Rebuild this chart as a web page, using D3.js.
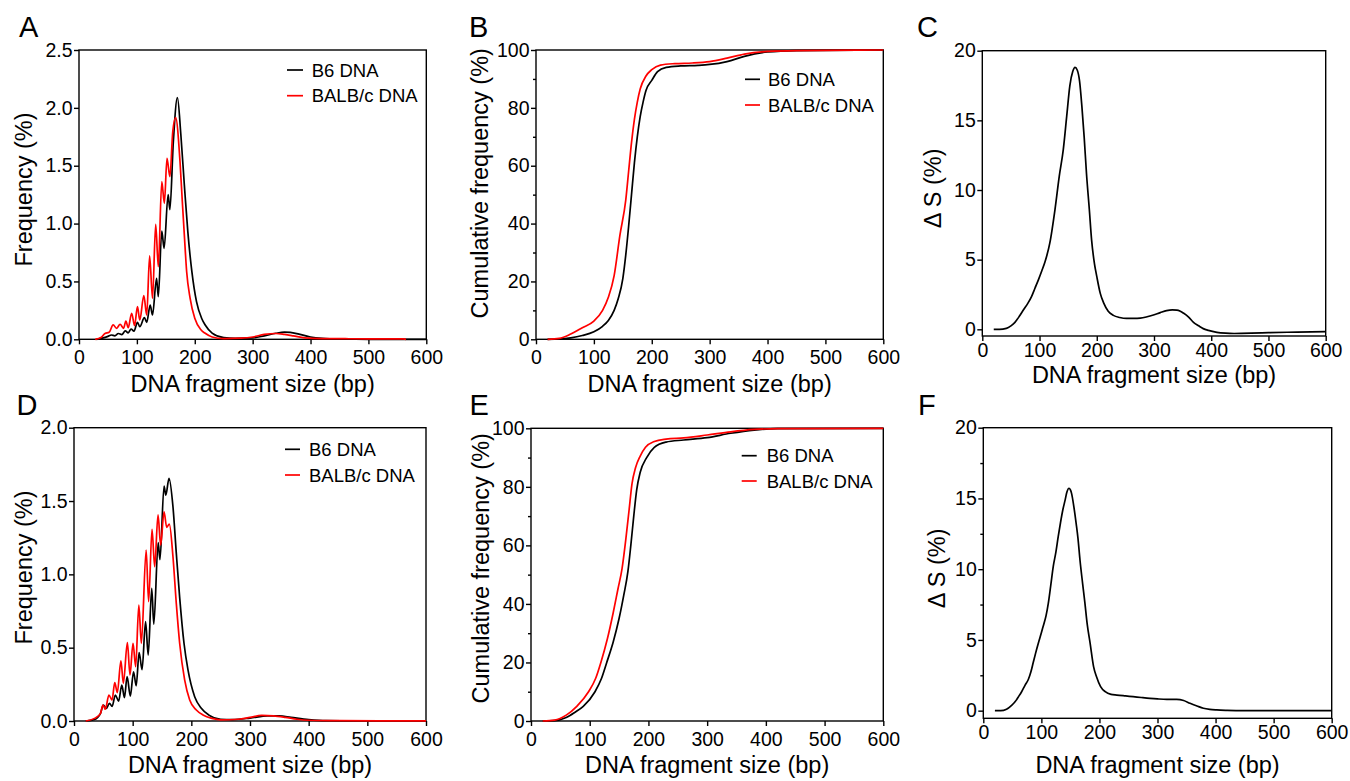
<!DOCTYPE html>
<html>
<head>
<meta charset="utf-8">
<script src="https://cdn.jsdelivr.net/npm/d3@7/dist/d3.min.js"></script>
<style>
body { margin: 0; background: #fff; }
svg text { font-family: "Liberation Sans", Arial, Helvetica, sans-serif; fill: #000; }
</style>
</head>
<body>
<svg id="fig" width="1350" height="781"></svg>
<script>
"use strict";

// ---- data ----
var sizeTicks = [0, 100, 200, 300, 400, 500, 600];
var seriesNames = ["B6 DNA", "BALB/c DNA"];

// A: frequency, top row
var aB6Size = [30, 40, 50, 56, 62, 68, 74, 80, 85, 90, 95, 101, 105, 113, 117, 123, 127, 134, 137, 143, 147, 154, 157, 163, 170, 176, 182, 188, 195, 203, 212, 218, 230, 250, 270, 300, 320, 340, 355, 365, 380, 400, 420, 450, 500, 600];
var aB6Freq = [0, 0.01, 0.025, 0.037, 0.03, 0.05, 0.04, 0.072, 0.055, 0.089, 0.07, 0.147, 0.109, 0.187, 0.147, 0.296, 0.21, 0.527, 0.368, 0.936, 0.786, 1.25, 1.12, 1.71, 2.088, 1.765, 1.333, 0.93, 0.584, 0.325, 0.18, 0.124, 0.054, 0.015, 0.008, 0.012, 0.03, 0.052, 0.062, 0.06, 0.045, 0.02, 0.008, 0.002, 0, 0];
var aBalbSize = [28, 38, 45, 52, 59, 65, 71, 77, 81, 85, 91, 96, 101, 105, 112, 117, 122, 127, 132.5, 137, 143, 147.5, 152, 157, 162, 167, 174.5, 178.5, 182, 186, 192, 200, 211, 218, 230, 250, 280, 300, 320, 340, 355, 370, 390, 420, 460, 500, 530, 560, 565];
var aBalbFreq = [0, 0.015, 0.05, 0.06, 0.124, 0.095, 0.13, 0.095, 0.158, 0.1, 0.225, 0.118, 0.282, 0.167, 0.377, 0.21, 0.722, 0.354, 0.994, 0.627, 1.362, 1.175, 1.564, 1.405, 1.794, 1.915, 1.535, 1.19, 0.9, 0.584, 0.354, 0.181, 0.08, 0.052, 0.02, 0.006, 0.01, 0.02, 0.042, 0.05, 0.042, 0.03, 0.012, 0.006, 0.005, 0.004, 0.003, 0.003, 0];

// B: cumulative frequency, top row
var bB6Size = [20, 40, 60, 80, 100, 115, 125, 135, 142, 150, 155, 160, 165, 170, 175, 180, 185, 190, 200, 210, 225, 250, 280, 300, 330, 360, 400, 450, 600];
var bB6Cum = [0, 0.1, 0.5, 1.3, 2.6, 4.5, 6.5, 10, 14, 21, 29, 39, 50, 61, 70, 77, 82, 86, 89.5, 92.5, 94, 94.5, 94.7, 95, 96, 97.8, 99.3, 99.8, 100];
var bBalbSize = [20, 40, 60, 80, 100, 115, 125, 135, 145, 155, 160, 165, 170, 175, 180, 190, 200, 215, 240, 270, 300, 330, 360, 400, 450, 600];
var bBalbCum = [0, 0.3, 1.8, 4, 6.3, 10, 14.5, 22, 36, 48, 58, 68, 76, 82, 86.5, 91, 93.2, 94.8, 95.3, 95.5, 96, 97.2, 98.6, 99.5, 99.8, 100];

// C: delta S, top row
var cSize = [20, 30, 42, 50, 57, 65, 72, 80, 86, 92, 98, 104, 110, 118, 127, 134.5, 141.5, 147.5, 153, 158, 162, 166, 170, 174, 178, 182, 187, 191, 196, 200, 206, 212, 220, 229, 240, 252, 265, 276, 288, 299, 311, 322, 332, 340, 346, 352, 360, 369, 378, 386, 395, 410, 425, 440, 470, 500, 550, 600];
var cDelta = [0, 0, 0.07, 0.25, 0.5, 0.95, 1.4, 1.9, 2.35, 2.95, 3.55, 4.2, 4.9, 6.2, 8.6, 11, 12.9, 15.3, 17.5, 18.5, 18.8, 18.6, 17.8, 16, 13.8, 11.2, 8.6, 6.4, 4.7, 3.8, 2.6, 1.9, 1.3, 1, 0.85, 0.78, 0.78, 0.8, 0.9, 1.03, 1.2, 1.34, 1.39, 1.38, 1.3, 1.15, 0.9, 0.5, 0.25, 0.05, -0.08, -0.22, -0.28, -0.3, -0.28, -0.24, -0.2, -0.17];

// D: frequency, bottom row
var dB6Size = [20, 35, 45, 50, 55, 60.5, 65, 70.5, 76, 81.5, 86, 90.5, 96, 101.5, 106, 111, 116, 122, 126.5, 132.5, 136, 143.5, 146.5, 153.5, 156.5, 162, 168.7, 174.4, 180, 187.5, 194.3, 205.7, 217, 230, 250, 270, 300, 330, 350, 370, 400, 430, 500, 600];
var dB6Freq = [0, 0.01, 0.05, 0.109, 0.086, 0.12, 0.1, 0.177, 0.136, 0.245, 0.16, 0.302, 0.17, 0.336, 0.24, 0.466, 0.35, 0.677, 0.45, 0.905, 0.66, 1.216, 1.1, 1.602, 1.54, 1.655, 1.461, 1.143, 0.848, 0.53, 0.348, 0.166, 0.087, 0.04, 0.012, 0.01, 0.02, 0.035, 0.035, 0.025, 0.01, 0.002, 0, 0];
var dBalbSize = [20, 35, 45, 49.4, 53.4, 59.5, 64.8, 69.5, 73.8, 80, 84.1, 91, 95.4, 100.6, 105.1, 110.5, 114.8, 123, 127.2, 133, 137.5, 143.2, 147.7, 153.5, 158, 162.5, 168.7, 174.4, 180.1, 188.6, 197.2, 208.5, 219.9, 235, 250, 280, 300, 320, 340, 360, 380, 400, 450, 600];
var dBalbFreq = [0, 0.018, 0.05, 0.109, 0.08, 0.177, 0.143, 0.261, 0.193, 0.411, 0.257, 0.534, 0.314, 0.53, 0.37, 0.791, 0.53, 1.166, 0.814, 1.307, 1.052, 1.405, 1.2, 1.427, 1.321, 1.343, 1.12, 0.8, 0.53, 0.28, 0.143, 0.075, 0.041, 0.018, 0.008, 0.012, 0.025, 0.038, 0.035, 0.025, 0.012, 0.005, 0.002, 0.001];

// E: cumulative frequency, bottom row
var eB6Size = [20, 40, 60, 75, 89, 109, 120, 129, 140, 150, 158, 165, 170, 175, 180, 186, 197, 210, 230, 260, 300, 340, 380, 420, 600];
var eB6Cum = [0, 0.1, 1.2, 3, 5, 10, 14.5, 20, 27, 35, 43, 51, 60, 70, 79, 85, 90, 93.5, 95.3, 96, 96.8, 98.3, 99.4, 99.9, 100];
var eBalbSize = [20, 40, 60, 78, 98, 110, 119, 130, 140, 148, 155, 162, 167, 172, 178, 186, 195, 210, 230, 260, 300, 340, 380, 420, 600];
var eBalbCum = [0, 0.3, 2, 5, 10, 14.5, 20, 28, 37, 45, 52, 63, 72, 81, 86.5, 90.5, 93.5, 95.5, 96.3, 96.7, 97.7, 98.8, 99.6, 99.9, 100];

// F: delta S, bottom row
var fSize = [20, 30, 40, 48, 55, 60, 66, 72, 77.5, 82, 86, 90, 95, 100, 103, 108, 112, 116, 120.5, 125, 129, 133, 137, 141, 144, 147.6, 150, 152, 156, 160, 163, 166.5, 171, 175, 179, 184, 190, 195, 202, 210, 220, 230, 245, 258, 272, 287, 300, 316, 333, 345, 356, 368, 379, 390, 402, 420, 450, 500, 600];
var fDelta = [0, 0, 0.1, 0.35, 0.64, 0.95, 1.34, 1.8, 2.2, 2.75, 3.4, 4.05, 4.8, 5.5, 5.95, 6.7, 7.6, 8.8, 10.2, 11.2, 12.3, 13.3, 14.2, 14.9, 15.45, 15.72, 15.6, 15.36, 14.4, 13.2, 12.2, 10.65, 9, 7.6, 6.1, 4.76, 3.1, 2.4, 1.7, 1.34, 1.15, 1.1, 1.04, 0.99, 0.93, 0.87, 0.83, 0.8, 0.8, 0.72, 0.52, 0.33, 0.17, 0.09, 0.05, 0.02, 0, 0, 0];

var freqTicksA = [0, 0.5, 1, 1.5, 2, 2.5];
var freqTicksD = [0, 0.5, 1, 1.5, 2];
var cumTicks = [0, 20, 40, 60, 80, 100];
var cumMinor = [10, 30, 50, 70, 90];
var deltaTicks = [0, 5, 10, 15, 20];
var deltaMinorF = [2.5, 7.5, 12.5, 17.5];

// ---- layout ----
var colors = ["#000000", "#ff0000"];
var svg = d3.select("#fig");
var xTitle = "DNA fragment size (bp)";

var panels = [
	{ label: "A", lx: 19, ly: 37, left: 79, top: 50, right: 426.3, bottom: 339.3, yDomain: [0, 2.5], yTicks: freqTicksA, yMinor: [], yFmt: ".1f",
		yTitle: "Frequency (%)", ytx: 32.3, yty: 189.5, xtb: 391.5, xPad: 6,
		series: [[aB6Size, aB6Freq], [aBalbSize, aBalbFreq]], legend: { x1: 287, x2: 303, y: 70, gap: 25.7, tx: 311.7 } },
	{ label: "B", lx: 469, ly: 37, left: 536, top: 50, right: 883.3, bottom: 339.3, yDomain: [0, 100], yTicks: cumTicks, yMinor: cumMinor, yFmt: "d",
		yTitle: "Cumulative frequency (%)", ytx: 488.3, yty: 183.3, xtb: 391.5, xPad: 6,
		series: [[bB6Size, bB6Cum], [bBalbSize, bBalbCum]], legend: { x1: 745, x2: 760, y: 79.3, gap: 25.7, tx: 768 } },
	{ label: "C", lx: 917, ly: 37, left: 982.3, top: 50.7, right: 1325.7, bottom: 336, yDomain: [-0.48, 20], yTicks: deltaTicks, yMinor: [], yFmt: "d",
		yTitle: "\u0394 S (%)", ytx: 940.7, yty: 188.3, xtb: 383.3, xPad: 2,
		series: [[cSize, cDelta]], legend: null },
	{ label: "D", lx: 16.5, ly: 415, left: 74, top: 427.7, right: 426, bottom: 721, yDomain: [0, 2], yTicks: freqTicksD, yMinor: [], yFmt: ".1f",
		yTitle: "Frequency (%)", ytx: 32.3, yty: 567.5, xtb: 773, xPad: 6,
		series: [[dB6Size, dB6Freq], [dBalbSize, dBalbFreq]], legend: { x1: 285, x2: 300, y: 449.3, gap: 25.7, tx: 309 } },
	{ label: "E", lx: 469.5, ly: 415, left: 531, top: 428.3, right: 883.3, bottom: 721, yDomain: [0, 100], yTicks: cumTicks, yMinor: cumMinor, yFmt: "d",
		yTitle: "Cumulative frequency (%)", ytx: 489.3, yty: 568.3, xtb: 773, xPad: 5.7,
		series: [[eB6Size, eB6Cum], [eBalbSize, eBalbCum]], legend: { x1: 741.7, x2: 756.7, y: 455.7, gap: 25.3, tx: 766.7 } },
	{ label: "F", lx: 918, ly: 415, left: 983.3, top: 427.7, right: 1331.7, bottom: 718.3, yDomain: [-0.54, 20], yTicks: deltaTicks, yMinor: deltaMinorF, yFmt: "d",
		yTitle: "\u0394 S (%)", ytx: 945, yty: 568.3, xtb: 773, xPad: 2,
		series: [[fSize, fDelta]], legend: null }
];

function styleAxis(g) {
	g.select(".domain").remove();
	g.selectAll("line").attr("stroke", "#000").attr("stroke-width", 1.4);
	g.selectAll("text").attr("font-size", "19.5px").attr("fill", "#000")
		.attr("font-family", "\"Liberation Sans\", Arial, sans-serif");
}

panels.forEach(function (p) {
	var x = d3.scaleLinear().domain([0, 600]).range([p.left, p.right]);
	var y = d3.scaleLinear().domain(p.yDomain).range([p.bottom, p.top]);

	svg.append("g")
		.attr("transform", "translate(0," + p.bottom + ")")
		.call(d3.axisBottom(x).tickValues(sizeTicks).tickFormat(d3.format("d")).tickSize(5).tickPadding(p.xPad))
		.call(styleAxis);

	svg.append("g")
		.attr("transform", "translate(" + p.left + ",0)")
		.call(d3.axisLeft(y).tickValues(p.yTicks).tickFormat(d3.format(p.yFmt)).tickSize(5).tickPadding(1.5))
		.call(styleAxis);

	if (p.yMinor.length) {
		svg.append("g")
			.attr("transform", "translate(" + p.left + ",0)")
			.call(d3.axisLeft(y).tickValues(p.yMinor).tickFormat("").tickSize(3))
			.call(styleAxis);
	}

	// frame
	svg.append("rect")
		.attr("x", p.left).attr("y", p.top)
		.attr("width", p.right - p.left).attr("height", p.bottom - p.top)
		.attr("fill", "none").attr("stroke", "#000").attr("stroke-width", 1.4);

	var line = d3.line()
		.x(function (d) { return x(d[0]); })
		.y(function (d) { return y(d[1]); })
		.curve(d3.curveMonotoneX);

	p.series.forEach(function (s, i) {
		svg.append("path")
			.datum(d3.zip(s[0], s[1]))
			.attr("d", line)
			.attr("fill", "none")
			.attr("stroke", colors[i])
			.attr("stroke-width", 1.7)
			.attr("stroke-linejoin", "round");
	});

	if (p.legend) {
		var lg = p.legend;
		seriesNames.forEach(function (name, i) {
			var ly = lg.y + i * lg.gap;
			svg.append("line")
				.attr("x1", lg.x1).attr("x2", lg.x2).attr("y1", ly).attr("y2", ly)
				.attr("stroke", colors[i]).attr("stroke-width", 1.7);
			svg.append("text")
				.attr("x", lg.tx).attr("y", ly).attr("dy", "0.36em")
				.attr("font-size", "18.5px")
				.text(name);
		});
	}

	svg.append("text")
		.attr("x", p.lx).attr("y", p.ly)
		.attr("font-size", "29px")
		.text(p.label);

	svg.append("text")
		.attr("transform", "translate(" + p.ytx + "," + p.yty + ") rotate(-90)")
		.attr("text-anchor", "middle")
		.attr("font-size", "23.5px")
		.text(p.yTitle);

	svg.append("text")
		.attr("x", (p.left + p.right) / 2).attr("y", p.xtb)
		.attr("text-anchor", "middle")
		.attr("font-size", "23.5px")
		.text(xTitle);
});
</script>
</body>
</html>
